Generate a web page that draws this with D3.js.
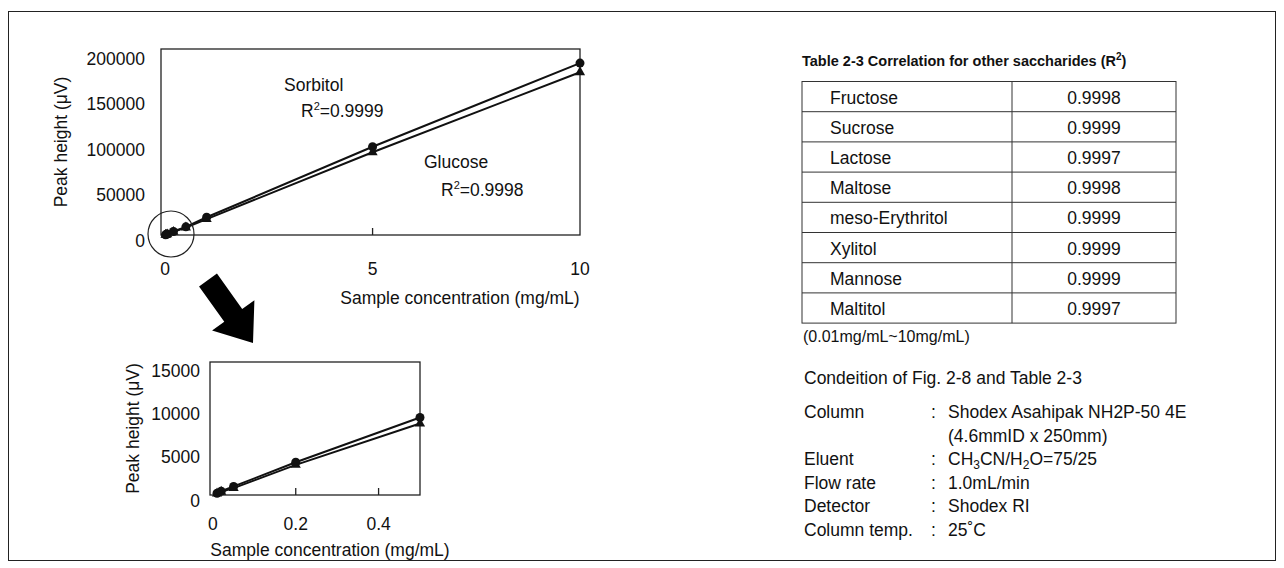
<!DOCTYPE html>
<html><head><meta charset="utf-8">
<script src="https://cdn.jsdelivr.net/npm/d3@7"></script>
<style>
body{margin:0;background:#fff;font-family:"Liberation Sans",Arial,sans-serif;}
text{font-family:"Liberation Sans",Arial,sans-serif;fill:#111;}
</style></head>
<body><svg id="fig" width="1284" height="568"></svg>
<script>
// data
var conc = [0.01, 0.02, 0.05, 0.2, 0.5, 1, 5, 10];
var sorbitol = [200, 450, 1000, 3800, 9000, 19500, 97000, 189000];
var glucose = [180, 380, 800, 3500, 8300, 17500, 91000, 179000];
var mainXTicks = [0, 5, 10];
var mainYTicks = [0, 50000, 100000, 150000, 200000];
var insetXTicks = [0, 0.2, 0.4];
var insetYTicks = [0, 5000, 10000, 15000];
var sugars = ["Fructose", "Sucrose", "Lactose", "Maltose", "meso-Erythritol", "Xylitol", "Mannose", "Maltitol"];
var r2 = ["0.9998", "0.9999", "0.9997", "0.9998", "0.9999", "0.9999", "0.9999", "0.9997"];
var condLabels = ["Column", "", "Eluent", "Flow rate", "Detector", "Column temp."];

var FS = 17.5;
var svg = d3.select("#fig");
svg.append("rect").attr("x", 8.5).attr("y", 11.5).attr("width", 1267).attr("height", 549)
    .attr("fill", "none").attr("stroke", "#222");

function drawChart(opt) {
    var x = d3.scaleLinear().domain(opt.xd).range([opt.l, opt.r]);
    var y = d3.scaleLinear().domain(opt.yd).range([opt.b, opt.t]);
    var g = svg.append("g");
    g.append("rect").attr("x", opt.l).attr("y", opt.t).attr("width", opt.r - opt.l).attr("height", opt.b - opt.t)
        .attr("fill", "none").attr("stroke", "#222").attr("stroke-width", 1.3);
    // inner tick marks
    opt.xt.filter(v => v > 0 && x(v) < opt.r - 2).forEach(function(v) {
        g.append("line").attr("x1", x(v)).attr("x2", x(v)).attr("y1", opt.b).attr("y2", opt.b - 7)
            .attr("stroke", "#222").attr("stroke-width", 1.3);
    });
    g.selectAll(".xl").data(opt.xt).enter().append("text")
        .attr("x", d => x(d)).attr("y", opt.b + opt.xlo).attr("text-anchor", "middle")
        .attr("font-size", FS).text(d => d);
    g.selectAll(".yl").data(opt.yt).enter().append("text")
        .attr("x", opt.l - opt.ylo).attr("y", d => y(d) + 11.5).attr("text-anchor", "end")
        .attr("font-size", FS).text(d => d);
    g.append("text").attr("x", opt.xtx).attr("y", opt.b + opt.xto).attr("text-anchor", "middle")
        .attr("font-size", FS).text("Sample concentration (mg/mL)");
    g.append("text").attr("transform", `translate(${opt.ytx}, ${(opt.t + opt.b) / 2}) rotate(-90)`)
        .attr("text-anchor", "middle").attr("font-size", FS).text("Peak height (\u03bcV)");

    var pts = conc.map((c, i) => ({c: c, s: sorbitol[i], g: glucose[i]})).filter(d => d.c <= opt.xd[1]);
    var line = k => d3.line().x(d => x(d.c)).y(d => y(d[k]));
    ["s", "g"].forEach(function(k) {
        g.append("path").datum(pts).attr("d", line(k)).attr("fill", "none")
            .attr("stroke", "#111").attr("stroke-width", 2);
    });
    g.selectAll(".tri").data(pts).enter().append("path")
        .attr("d", d3.symbol(d3.symbolTriangle, 45))
        .attr("transform", d => `translate(${x(d.c)}, ${y(d.g)})`).attr("fill", "#111");
    g.selectAll(".dot").data(pts).enter().append("circle")
        .attr("cx", d => x(d.c)).attr("cy", d => y(d.s)).attr("r", 4.5).attr("fill", "#111");
    return {x: x, y: y, g: g};
}

drawChart({l: 161, r: 580, t: 49, b: 235, xd: [-0.1, 10], yd: [0, 204500],
    xt: mainXTicks, yt: mainYTicks, xtx: 460, ytx: 67, xlo: 40, ylo: 16, xto: 69});
drawChart({l: 210, r: 420, t: 362, b: 495, xd: [-0.007, 0.5], yd: [0, 15450],
    xt: insetXTicks, yt: insetYTicks, xtx: 330, ytx: 139, xlo: 35, ylo: 10, xto: 61});

// circle round origin
svg.append("ellipse").attr("cx", 171).attr("cy", 234).attr("rx", 23).attr("ry", 23)
    .attr("fill", "none").attr("stroke", "#222").attr("stroke-width", 1.2);

// annotations
function r2label(xp, yp, val) {
    var t = svg.append("text").attr("x", xp).attr("y", yp).attr("font-size", FS);
    t.append("tspan").text("R");
    t.append("tspan").attr("font-size", 11).attr("dy", -7).text("2");
    t.append("tspan").attr("dy", 7).text("=" + val);
}
svg.append("text").attr("x", 284).attr("y", 91).attr("font-size", FS).text("Sorbitol");
r2label(301, 117, "0.9999");
svg.append("text").attr("x", 424).attr("y", 168).attr("font-size", FS).text("Glucose");
r2label(441, 196, "0.9998");

// big arrow
(function() {
    var p0 = [208, 280], p1 = [253, 343];
    var dx = p1[0] - p0[0], dy = p1[1] - p0[1], L = Math.hypot(dx, dy);
    var u = [dx / L, dy / L], n = [-u[1], u[0]];
    var hw = 11, hh = 26, hl = 34;
    var b = [p1[0] - u[0] * hl, p1[1] - u[1] * hl];
    var P = (p, a) => [p[0] + n[0] * a, p[1] + n[1] * a];
    var poly = [P(p0, hw), P(b, hw), P(b, hh), p1, P(b, -hh), P(b, -hw), P(p0, -hw)];
    svg.append("polygon").attr("points", poly.map(p => p.join(",")).join(" ")).attr("fill", "#000");
})();

// table
var tl = 802, tr = 1176, tm = 1012, tt = 81.5, rh = 30.2;
var tt0 = svg.append("text").attr("x", 802).attr("y", 66).attr("font-size", 14.5).attr("font-weight", "bold");
tt0.append("tspan").text("Table 2-3 Correlation for other saccharides (R");
tt0.append("tspan").attr("font-size", 10).attr("dy", -6).text("2");
tt0.append("tspan").attr("dy", 6).text(")");
var tg = svg.append("g");
tg.append("rect").attr("x", tl).attr("y", tt).attr("width", tr - tl).attr("height", rh * sugars.length)
    .attr("fill", "none").attr("stroke", "#333");
tg.append("line").attr("x1", tm).attr("x2", tm).attr("y1", tt).attr("y2", tt + rh * sugars.length).attr("stroke", "#333");
sugars.forEach(function(s, i) {
    if (i > 0) tg.append("line").attr("x1", tl).attr("x2", tr).attr("y1", tt + rh * i).attr("y2", tt + rh * i).attr("stroke", "#333");
    tg.append("text").attr("x", 830).attr("y", tt + rh * i + 22).attr("font-size", FS).text(s);
    tg.append("text").attr("x", (tm + tr) / 2).attr("y", tt + rh * i + 22).attr("font-size", FS)
        .attr("text-anchor", "middle").text(r2[i]);
});
svg.append("text").attr("x", 803).attr("y", 342).attr("font-size", 16).text("(0.01mg/mL~10mg/mL)");
svg.append("text").attr("x", 804).attr("y", 384).attr("font-size", FS).text("Condeition of Fig. 2-8 and Table 2-3");

var cy0 = 418, cdy = 23.6;
condLabels.forEach(function(c, i) {
    svg.append("text").attr("x", 804).attr("y", cy0 + cdy * i).attr("font-size", FS).text(c);
    if (c) svg.append("text").attr("x", 931).attr("y", cy0 + cdy * i).attr("font-size", FS).text(":");
});
// strings are normal text, one-element arrays are subscripts
function val(i, parts) {
    var t = svg.append("text").attr("x", 948).attr("y", cy0 + cdy * i).attr("font-size", FS);
    var back = 0;
    parts.forEach(function(p) {
        if (typeof p === "string") {
            t.append("tspan").attr("dy", back).text(p);
            back = 0;
        } else {
            t.append("tspan").attr("font-size", 12).attr("dy", 4).text(p[0]);
            back = -4;
        }
    });
}
val(0, ["Shodex Asahipak NH2P-50 4E"]);
val(1, ["(4.6mmID x 250mm)"]);
val(2, ["CH", ["3"], "CN/H", ["2"], "O=75/25"]);
val(3, ["1.0mL/min"]);
val(4, ["Shodex RI"]);
val(5, ["25\u02daC"]);
</script></body></html>
